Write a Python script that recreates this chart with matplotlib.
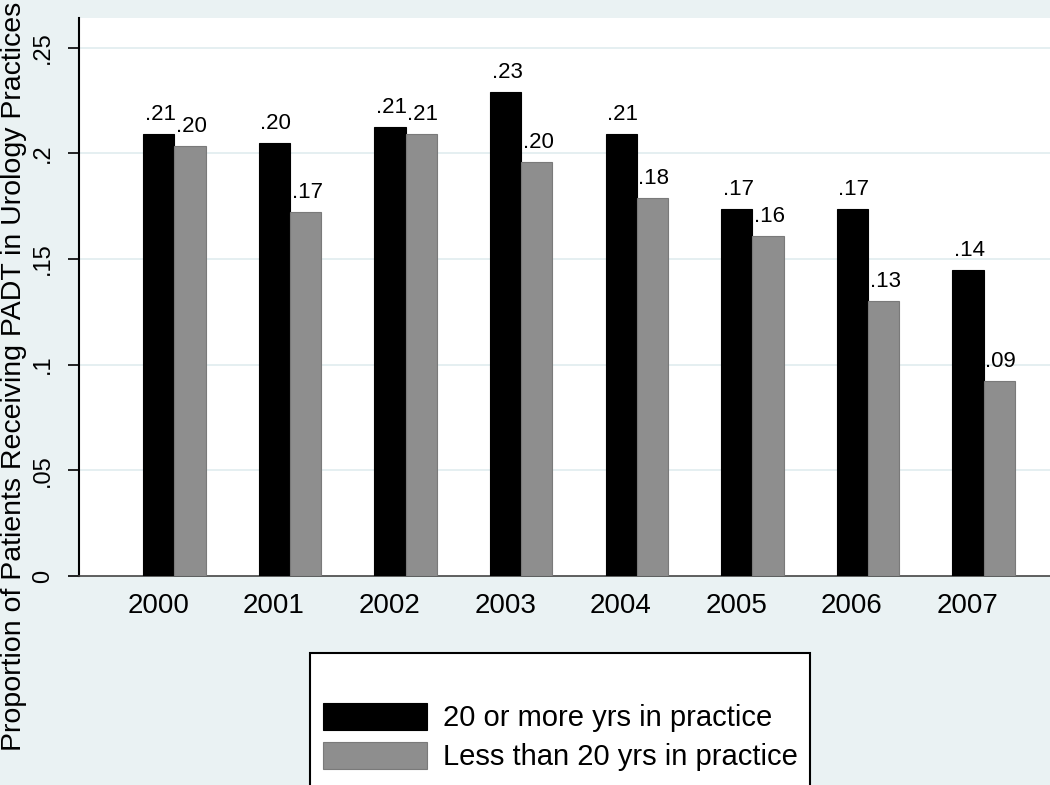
import numpy as np
import matplotlib
matplotlib.use("Agg")
import matplotlib.pyplot as plt
from matplotlib.patches import Rectangle

plt.rcParams['font.family'] = ['Liberation Sans', 'DejaVu Sans']

years = ['2000', '2001', '2002', '2003', '2004', '2005', '2006', '2007']
more20 = [0.209, 0.205, 0.2125, 0.229, 0.209, 0.1736, 0.1736, 0.1447]
less20 = [0.2034, 0.1723, 0.209, 0.1957, 0.179, 0.161, 0.130, 0.0922]
series_names = ['20 or more yrs in practice', 'Less than 20 yrs in practice']
yticks = [0, 0.05, 0.1, 0.15, 0.2, 0.25]
ytick_labels = ['0', '.05', '.1', '.15', '.2', '.25']

bg = '#eaf2f3'
W, H = 1050, 785
fig = plt.figure(figsize=(W / 100, H / 100), dpi=100, facecolor=bg)
ax = fig.add_axes([79 / W, 1 - 576 / H, 1 - 79 / W, (576 - 18) / H])
ax.set_facecolor('white')

x = np.arange(len(years))
w = 0.27
b1 = ax.bar(x - w / 2, more20, w, color='black', edgecolor='black', linewidth=0.8, zorder=3)
b2 = ax.bar(x + w / 2, less20, w, color='#8e8e8e', edgecolor='#7a7a7a', linewidth=0.8, zorder=3)

for bars, vals in ((b1, more20), (b2, less20)):
    for r, v in zip(bars, vals):
        ax.annotate('{:.2f}'.format(v)[1:], (r.get_x() + r.get_width() / 2, v),
                    xytext=(1, 10), textcoords='offset points',
                    ha='center', va='baseline', fontsize=16, color='black')

ax.set_xlim(-0.826, 7.574)
ax.set_ylim(0, 0.264)
ax.set_xticks(x - 0.14)
ax.set_xticklabels(years, fontsize=20)
ax.tick_params(axis='x', length=0, pad=12)
ax.set_yticks(yticks)
ax.set_yticklabels(ytick_labels, fontsize=17, rotation=90, va='center')
ax.tick_params(axis='y', length=8, width=1.2, pad=10)
ax.yaxis.grid(True, color='#e3eef0', linewidth=1.3, zorder=0)
for t in ax.yaxis.get_gridlines()[:1]:
    t.set_visible(False)

for s in ['top', 'right']:
    ax.spines[s].set_visible(False)
ax.spines['left'].set_linewidth(1.5)
ax.spines['bottom'].set_color('#444444')
ax.spines['bottom'].set_linewidth(1.2)

ax.set_ylabel('Proportion of Patients Receiving PADT in Urology Practices', fontsize=20.5)
ax.yaxis.set_label_coords(-52 / (W - 79), 0.358)

fig.patches.append(Rectangle((310 / W, -0.02), 500 / W, (785 - 653) / H + 0.02,
                             transform=fig.transFigure, facecolor='white',
                             edgecolor='black', linewidth=1.5, zorder=1))
leg = fig.legend([b1, b2], series_names, loc='upper left',
                 bbox_to_anchor=(323 / W, 1 - 703 / H), frameon=False,
                 fontsize=21, handlelength=3.56, handleheight=1.04,
                 handletextpad=0.55, labelspacing=0.33, borderpad=0, borderaxespad=0)
leg.set_zorder(2)

fig.savefig('out.png', dpi=100, facecolor=bg)
